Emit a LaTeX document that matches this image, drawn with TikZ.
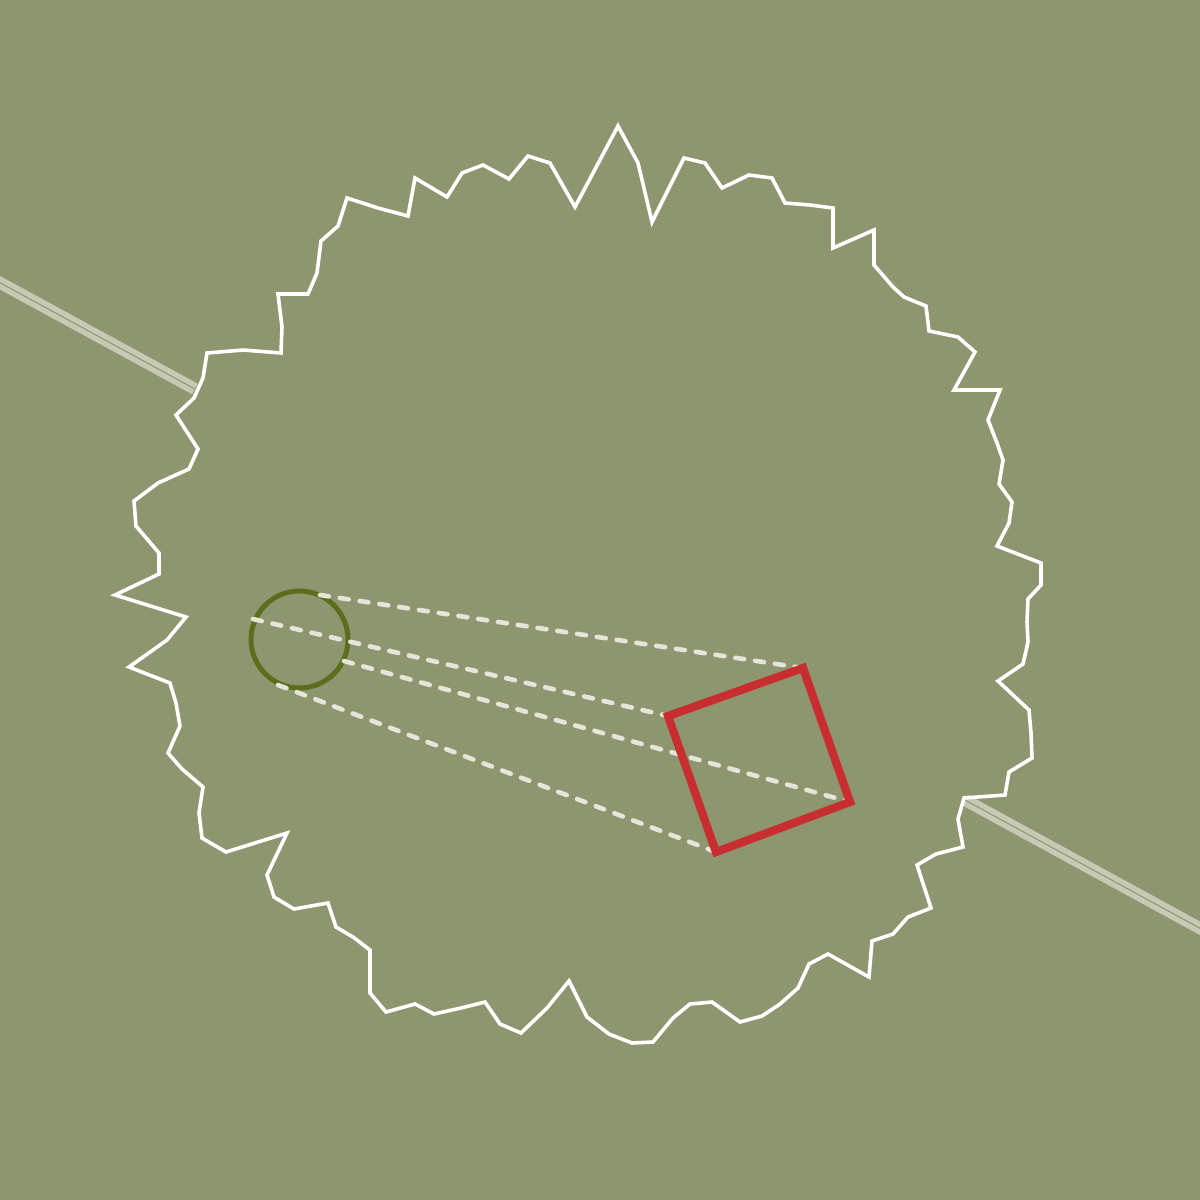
\documentclass[tikz,border=0pt]{standalone}
\usepackage{tikz}
\definecolor{bg}{HTML}{8E9670}
\definecolor{olivec}{HTML}{5C6E1C}
\definecolor{redc}{HTML}{C82D2F}
\definecolor{dashc}{HTML}{E4E6DA}
\definecolor{railc}{HTML}{C6C9B4}
\tikzset{
  outline/.style={draw=white, line width=3.6pt, line join=miter, miter limit=10},
  rail/.style={draw=railc, line width=5.5pt, double=bg, double distance=1pt},
  ray/.style={draw=dashc, line width=4.6pt, line cap=round, dash pattern=on 9pt off 11pt},
  ring/.style={draw=olivec, line width=5pt},
  frame/.style={draw=redc, line width=8.2pt, line join=miter},
}
\begin{document}
\begin{tikzpicture}[x=1pt,y=-1pt]
\fill[bg] (0,0) rectangle (1200,1200);
\useasboundingbox (0,0) rectangle (1200,1200);
% rails
\draw[rail] (-5,280) -- (195,389);
\draw[rail] (965,800) -- (1205,931);
% jagged outline
\draw[outline] (618,126) -- (638,163) -- (652,222) -- (684,158) -- (705,163) -- (722,188) -- (749,175) -- (772,178) -- (785,203) -- (810,205) -- (833,208) -- (833,248) -- (874,230) -- (874,265) -- (893,287) -- (904,297) -- (926,306) -- (929,331) -- (958,337) -- (975,352) -- (954,390) -- (1000,390) -- (988,420) -- (997,443) -- (1003,460) -- (999,484) -- (1012,502) -- (1009,523) -- (997,546) -- (1041,563) -- (1041,585) -- (1028,599) -- (1027,622) -- (1028,642) -- (1023,664) -- (998,681) -- (1029,710) -- (1031,733) -- (1032,758) -- (1009,772) -- (1005,795) -- (964,798) -- (958,819) -- (963,847) -- (936,854) -- (917,865) -- (931,908) -- (908,917) -- (893,934) -- (872,941) -- (869,977) -- (828,954) -- (809,964) -- (798,988) -- (780,1004) -- (762,1016) -- (740,1022) -- (712,1002) -- (690,1004) -- (673,1018) -- (653,1042) -- (632,1043) -- (609,1034) -- (587,1017) -- (569,981) -- (547,1008) -- (521,1033) -- (500,1024) -- (485,1002) -- (461,1008) -- (434,1014) -- (415,1004) -- (386,1012) -- (370,993) -- (370,950) -- (353,937) -- (336,927) -- (328,903) -- (294,909) -- (274,897) -- (267,875) -- (287,833) -- (226,852) -- (202,838) -- (199,813) -- (203,787) -- (182,769) -- (168,753) -- (180,726) -- (176,703) -- (170,683) -- (129,667) -- (167,640) -- (186,617) -- (115,595) -- (159,574) -- (159,553) -- (136,526) -- (134,501) -- (158,483) -- (189,469) -- (198,449) -- (176,415) -- (194,398) -- (203,378) -- (207,353) -- (243,350) -- (281,353) -- (282,327) -- (278,294) -- (308,294) -- (317,273) -- (321,241) -- (338,226) -- (347,198) -- (378,208) -- (408,216) -- (415,178) -- (447,197) -- (462,173) -- (483,165) -- (509,179) -- (528,156) -- (550,163) -- (575,207) -- cycle;
% circle
\node[ring, circle, minimum size=97pt, inner sep=0pt] (c) at (299.5,639.5) {};
% square corners
\coordinate (sT) at (803,668);
\coordinate (sR) at (850,802);
\coordinate (sB) at (716,852);
\coordinate (sL) at (668,716);
% circle tangent points
\coordinate (c1) at (320,595);
\coordinate (c2) at (253,619);
\coordinate (c3) at (344,661);
\coordinate (c4) at (278,685);
\draw[ray] (c1) -- (sT);
\draw[ray] (c2) -- (sL);
\draw[ray] (c3) -- (sR);
\draw[ray] (c4) -- (sB);
\draw[frame] (sT) -- (sR) -- (sB) -- (sL) -- cycle;
\end{tikzpicture}
\end{document}
